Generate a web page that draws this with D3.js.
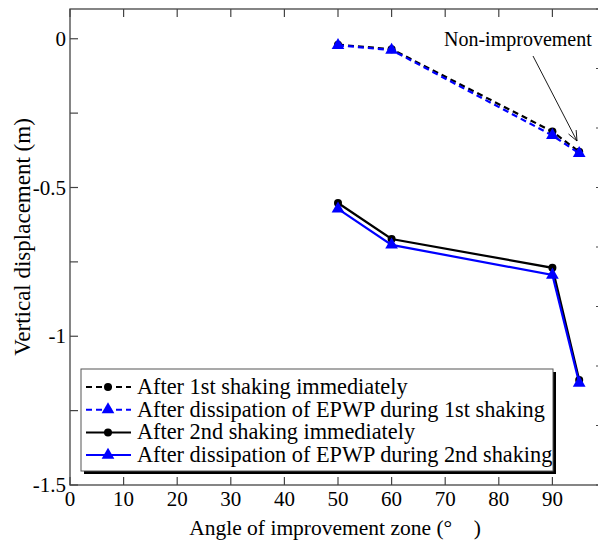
<!DOCTYPE html>
<html><head><meta charset="utf-8">
<script src="https://cdn.jsdelivr.net/npm/d3@7"></script>
<style>
body{margin:0;background:#fff}
text{font-family:"Liberation Serif","Times New Roman",serif;fill:#000}
</style>
</head><body>
<svg id="chart" width="598" height="544"></svg>
<script>
// Settlement of the ground surface versus angle of the improvement zone
const angles = [50, 60, 90, 95];
const shake1Immediate = [-0.020, -0.035, -0.312, -0.380];
const shake1Dissipated = [-0.022, -0.038, -0.325, -0.385];
const shake2Immediate = [-0.552, -0.673, -0.770, -1.147];
const shake2Dissipated = [-0.572, -0.693, -0.794, -1.157];
const seriesNames = [
  "After 1st shaking immediately",
  "After dissipation of EPWP during 1st shaking",
  "After 2nd shaking immediately",
  "After dissipation of EPWP during 2nd shaking"
];
const xTickValues = [0, 10, 20, 30, 40, 50, 60, 70, 80, 90, 100];
const yTickValues = [0, -0.25, -0.5, -0.75, -1, -1.25, -1.5];
const yLabelValues = [0, -0.5, -1, -1.5];
const rightTickValues = [0, 1, 2, 3, 4, 5, 6, 7, 8];
const annotationText = "Non-improvement";
const xTitle = "Angle of improvement zone (\u00B0\u2003)";
const yTitle = "Vertical displacement (m)";

const svg = d3.select("#chart");
const L = 70, T = 9, R = 606, B = 485;
const x = d3.scaleLinear().domain([0, 100]).range([L, R]);
const y = d3.scaleLinear().domain([-1.5, 0.1]).range([B, T]);
const y2 = d3.scaleLinear().domain([0, 8]).range([B, T]);
const axisColor = "#444";

// frame
svg.append("rect").attr("x", L).attr("y", T).attr("width", R - L).attr("height", B - T)
  .attr("fill", "none").attr("stroke", axisColor).attr("stroke-width", 1.3);

// inward ticks
const tickLen = 8;
const ticks = svg.append("g").attr("stroke", axisColor).attr("stroke-width", 1.2);
xTickValues.forEach(v => {
  ticks.append("line").attr("x1", x(v)).attr("x2", x(v)).attr("y1", B).attr("y2", B - tickLen);
  ticks.append("line").attr("x1", x(v)).attr("x2", x(v)).attr("y1", T).attr("y2", T + tickLen);
});
yTickValues.forEach(v => {
  ticks.append("line").attr("x1", L).attr("x2", L + tickLen).attr("y1", y(v)).attr("y2", y(v));
});
rightTickValues.forEach(v => {
  ticks.append("line").attr("x1", R).attr("x2", R - 10).attr("y1", y2(v)).attr("y2", y2(v));
});

// tick labels
svg.append("g").selectAll("text").data(xTickValues.filter(v => v <= 90)).join("text")
  .attr("x", d => x(d)).attr("y", 506).attr("text-anchor", "middle")
  .style("font-size", "21px").text(d => d);
svg.append("g").selectAll("text").data(yLabelValues).join("text")
  .attr("x", L - 4).attr("y", d => y(d) + 7).attr("text-anchor", "end")
  .style("font-size", "21px").text(d => String(d));

// axis titles
svg.append("text").attr("x", 335).attr("y", 535).attr("text-anchor", "middle")
  .style("font-size", "21.5px").text(xTitle);
svg.append("text").attr("transform", "translate(30,237) rotate(-90)").attr("text-anchor", "middle")
  .style("font-size", "23px").text(yTitle);

// series
const series = [
  {values: shake1Immediate, color: "#000", dash: "6,4", marker: "circle"},
  {values: shake1Dissipated, color: "#0000ff", dash: "6,4", marker: "triangle"},
  {values: shake2Immediate, color: "#000", dash: null, marker: "circle"},
  {values: shake2Dissipated, color: "#0000ff", dash: null, marker: "triangle"}
];
const line = d3.line().x(d => x(d[0])).y(d => y(d[1]));
const tri = d3.symbol(d3.symbolTriangle, 70);

function drawMarker(g, cx, cy, s) {
  if (s.marker === "circle") {
    g.append("circle").attr("cx", cx).attr("cy", cy).attr("r", 4).attr("fill", s.color);
  } else {
    g.append("path").attr("d", tri()).attr("transform", `translate(${cx},${cy})`).attr("fill", s.color);
  }
}

const plot = svg.append("g");
series.forEach(s => {
  const pts = angles.map((a, i) => [a, s.values[i]]);
  plot.append("path").datum(pts).attr("d", line).attr("fill", "none")
    .attr("stroke", s.color).attr("stroke-width", 2.2)
    .attr("stroke-dasharray", s.dash);
  pts.forEach(p => drawMarker(plot, x(p[0]), y(p[1]), s));
});

// annotation
svg.append("text").attr("x", 444).attr("y", 46).style("font-size", "20px").text(annotationText);
const ax1 = 533, ay1 = 56, ax2 = 577, ay2 = 141;
svg.append("line").attr("x1", ax1).attr("y1", ay1).attr("x2", ax2).attr("y2", ay2)
  .attr("stroke", "#000").attr("stroke-width", 0.9);
const ang = Math.atan2(ay2 - ay1, ax2 - ax1);
[-0.4, 0.4].forEach(da => {
  svg.append("line").attr("x1", ax2).attr("y1", ay2)
    .attr("x2", ax2 - 11 * Math.cos(ang + da)).attr("y2", ay2 - 11 * Math.sin(ang + da))
    .attr("stroke", "#000").attr("stroke-width", 0.9);
});

// legend
const lg = {x: 81, y: 369, w: 472, h: 102};
svg.append("rect").attr("x", lg.x + 3).attr("y", lg.y + 3).attr("width", lg.w).attr("height", lg.h).attr("fill", "#000");
svg.append("rect").attr("x", lg.x).attr("y", lg.y).attr("width", lg.w).attr("height", lg.h)
  .attr("fill", "#fff").attr("stroke", "#555").attr("stroke-width", 1);
series.forEach((s, i) => {
  const ry = 387 + i * 22.7;
  const g = svg.append("g");
  g.append("line").attr("x1", 86).attr("x2", 131).attr("y1", ry).attr("y2", ry)
    .attr("stroke", s.color).attr("stroke-width", 2).attr("stroke-dasharray", s.dash);
  drawMarker(g, 108, ry, s);
  g.append("text").attr("x", 137).attr("y", ry + 7).style("font-size", "22.3px").text(seriesNames[i]);
});
</script>
</body></html>
